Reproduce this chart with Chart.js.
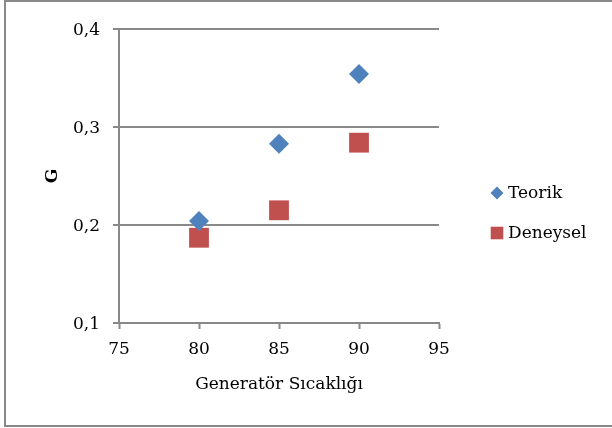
<!DOCTYPE html>
<html>
<head>
<meta charset="utf-8">
<script src="https://cdn.jsdelivr.net/npm/chart.js@4/dist/chart.umd.min.js"></script>
<style>
  html, body { margin: 0; padding: 0; background: #fff; }
  canvas { display: block; }
</style>
</head>
<body>
<canvas id="c" width="612" height="428"></canvas>
<script>
// Generator temperature (x) and G values for both series
const temps = [80, 85, 90];
const teorik = [0.204, 0.283, 0.354];
const deneysel = [0.187, 0.215, 0.284];

// Axis ticks
const xTicks = [75, 80, 85, 90, 95];
const yTicks = [0.1, 0.2, 0.3, 0.4];
const seriesNames = ['Teorik', 'Deneysel'];

const FONT = '"DejaVu Serif", "Liberation Serif", serif';
const FSIZE = 17;
const GRAY = '#898989';
const BLUE = '#4F81BD';
const RED = '#C0504D';

const toPoints = (xs, ys) => xs.map((x, i) => ({ x: x, y: ys[i] }));

// Outer frame and series key on the right
const decorations = {
  id: 'decorations',
  afterDraw(chart) {
    const ctx = chart.ctx;
    ctx.save();
    ctx.strokeStyle = GRAY;
    ctx.lineWidth = 2;
    ctx.strokeRect(5, 1, 640, 425);

    const keyX = 497;
    const rows = [193, 233];
    chart.data.datasets.forEach((ds, i) => {
      const y = rows[i];
      ctx.fillStyle = ds.backgroundColor;
      ctx.beginPath();
      if (ds.pointStyle === 'rectRot') {
        const r = 6.5;
        ctx.moveTo(keyX - r, y);
        ctx.lineTo(keyX, y - r);
        ctx.lineTo(keyX + r, y);
        ctx.lineTo(keyX, y + r);
        ctx.closePath();
      } else {
        const s = 6.3;
        ctx.rect(keyX - s, y - s, 2 * s, 2 * s);
      }
      ctx.fill();
      ctx.fillStyle = '#000';
      ctx.font = FSIZE + 'px ' + FONT;
      ctx.textBaseline = 'middle';
      ctx.textAlign = 'left';
      ctx.fillText(ds.label, 508, y + 1);
    });
    ctx.restore();
  }
};

new Chart(document.getElementById('c'), {
  type: 'scatter',
  data: {
    datasets: [
      {
        label: seriesNames[0],
        data: toPoints(temps, teorik),
        pointStyle: 'rectRot',
        pointRadius: 10,
        pointHoverRadius: 10,
        backgroundColor: BLUE,
        borderColor: BLUE,
        borderWidth: 0
      },
      {
        label: seriesNames[1],
        data: toPoints(temps, deneysel),
        pointStyle: 'rect',
        pointRadius: 14,
        pointHoverRadius: 14,
        backgroundColor: RED,
        borderColor: RED,
        borderWidth: 0
      }
    ]
  },
  options: {
    responsive: false,
    animation: false,
    events: [],
    layout: { padding: { left: 0, top: 29, right: 173, bottom: 0 } },
    plugins: {
      legend: { display: false },
      tooltip: { enabled: false }
    },
    scales: {
      x: {
        type: 'linear',
        min: xTicks[0],
        max: xTicks[xTicks.length - 1],
        afterBuildTicks(scale) { scale.ticks = xTicks.map(v => ({ value: v })); },
        afterFit(scale) { scale.height = 105; },
        ticks: {
          color: '#000',
          font: { family: FONT, size: FSIZE },
          padding: 10,
          maxRotation: 0,
          callback: v => String(v)
        },
        grid: {
          drawOnChartArea: false,
          drawTicks: true,
          tickLength: 6,
          tickWidth: 2,
          tickColor: GRAY
        },
        border: { color: GRAY, width: 2 },
        title: {
          display: true,
          text: 'Generatör Sıcaklığı',
          color: '#000',
          font: { family: FONT, size: FSIZE },
          padding: { top: 0, bottom: 33 }
        }
      },
      y: {
        type: 'linear',
        min: yTicks[0],
        max: yTicks[yTicks.length - 1],
        afterBuildTicks(scale) { scale.ticks = yTicks.map(v => ({ value: v })); },
        afterFit(scale) { scale.width = 119; },
        ticks: {
          color: '#000',
          font: { family: FONT, size: FSIZE },
          padding: 13,
          labelOffset: 2,
          callback: v => Number(v).toFixed(1).replace('.', ',')
        },
        grid: {
          drawOnChartArea: true,
          drawTicks: true,
          tickLength: 6,
          lineWidth: 2,
          color: GRAY
        },
        border: { color: GRAY, width: 2 },
        title: {
          display: true,
          text: 'G',
          color: '#000',
          font: { family: FONT, size: FSIZE, weight: 'bold' },
          padding: { top: 42, bottom: 0 }
        }
      }
    }
  },
  plugins: [decorations]
});
</script>
</body>
</html>
